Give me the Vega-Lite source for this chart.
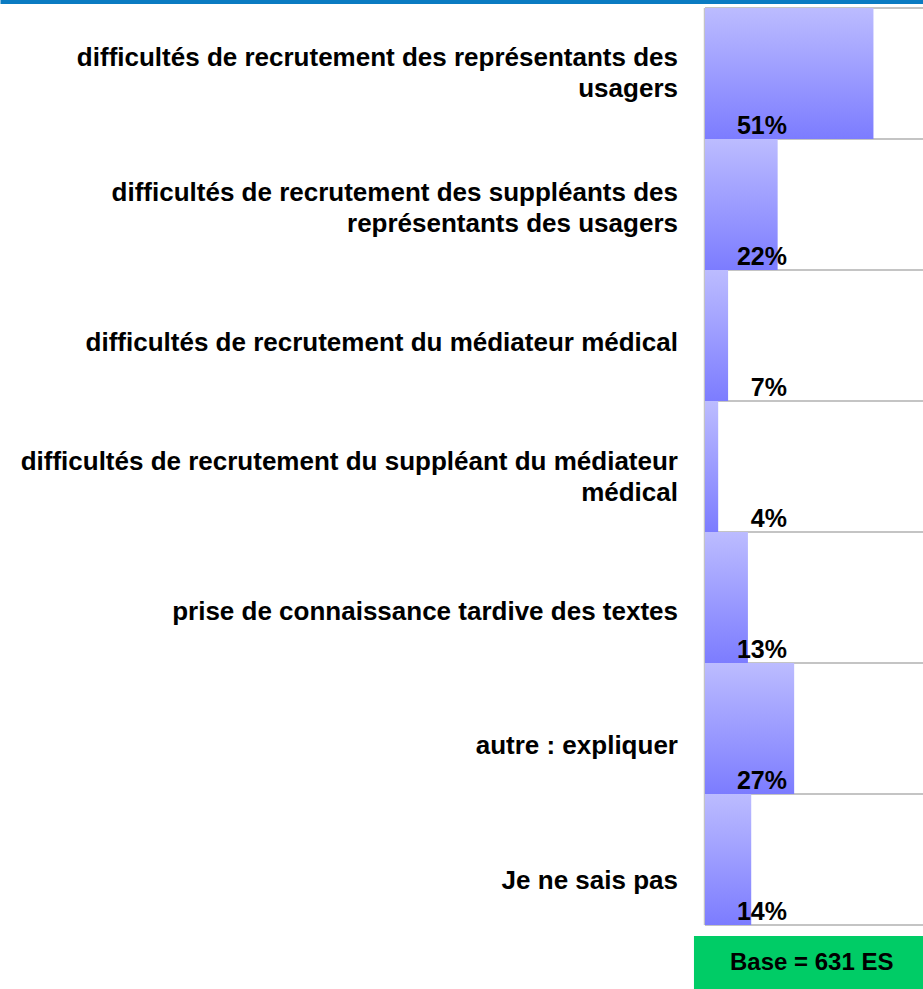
{
  "$schema": "https://vega.github.io/schema/vega-lite/v6.json",
  "padding": 0,
  "background": "white",
  "spacing": 10,
  "config": {"view": {"stroke": null}, "font": "Liberation Sans"},
  "resolve": {"scale": {"x": "independent"}, "axis": {"x": "independent"}},
  "vconcat": [
    {
      "width": 923,
      "height": 917,
      "data": {"values": [
        {"label": "difficultés de recrutement des représentants des\nusagers", "pct": 0.51},
        {"label": "difficultés de recrutement des suppléants des\nreprésentants des usagers", "pct": 0.22},
        {"label": "difficultés de recrutement du médiateur médical", "pct": 0.07},
        {"label": "difficultés de recrutement du suppléant du médiateur\nmédical", "pct": 0.04},
        {"label": "prise de connaissance tardive des textes", "pct": 0.13},
        {"label": "autre : expliquer", "pct": 0.27},
        {"label": "Je ne sais pas", "pct": 0.14}
      ]},
      "layer": [
        {
          "layer": [
            {
              "mark": {"type": "rule", "color": "#c4c4c4", "strokeWidth": 2},
              "encoding": {
                "y": {"field": "label", "type": "nominal", "sort": null, "bandPosition": 0, "axis": null, "scale": {"paddingInner": 0, "paddingOuter": 0}},
                "x": {"datum": 0, "type": "quantitative", "scale": {"domain": [-2.134, 0.66], "nice": false, "zero": false}, "axis": {"orient": "top", "title": null, "labels": false, "ticks": false, "grid": false, "domainColor": "#0a7bc2", "domainWidth": 7, "offset": 8}},
                "x2": {"datum": 0.66}
              }
            },
            {
              "mark": {"type": "rule", "color": "#c4c4c4", "strokeWidth": 2},
              "encoding": {
                "y": {"field": "label", "type": "nominal", "sort": null, "bandPosition": 1, "axis": null},
                "x": {"datum": 0, "type": "quantitative"},
                "x2": {"datum": 0.66}
              }
            },
            {
              "mark": {"type": "rule", "color": "#c4c4c4", "strokeWidth": 2},
              "encoding": {
                "x": {"datum": 0, "type": "quantitative"}
              }
            },
            {
              "mark": {"type": "bar", "color": {"gradient": "linear", "x1": 0, "y1": 0, "x2": 0, "y2": 1, "stops": [{"offset": 0, "color": "#bcbcff"}, {"offset": 1, "color": "#7c7cff"}]}},
              "encoding": {
                "y": {"field": "label", "type": "nominal", "sort": null, "axis": null},
                "x": {"field": "pct", "type": "quantitative"}
              }
            },
            {
              "mark": {"type": "text", "align": "right", "baseline": "alphabetic", "dx": 82, "dy": -5, "fontSize": 25, "fontWeight": "bold", "color": "black"},
              "encoding": {
                "y": {"field": "label", "type": "nominal", "sort": null, "bandPosition": 1, "axis": null},
                "x": {"datum": 0, "type": "quantitative"},
                "text": {"field": "pct", "type": "quantitative", "format": ".0%"}
              }
            }
          ]
        },
        {
          "layer": [
            {
              "transform": [{"filter": "indexof(datum.label, '\\n') < 0"}],
              "mark": {"type": "text", "align": "right", "baseline": "middle", "dx": -27, "fontSize": 26, "fontWeight": "bold", "color": "black", "lineBreak": "\n", "lineHeight": 31},
              "encoding": {
                "y": {"field": "label", "type": "nominal", "sort": null, "axis": null, "scale": {"domain": [
                  "difficultés de recrutement des représentants des\nusagers",
                  "difficultés de recrutement des suppléants des\nreprésentants des usagers",
                  "difficultés de recrutement du médiateur médical",
                  "difficultés de recrutement du suppléant du médiateur\nmédical",
                  "prise de connaissance tardive des textes",
                  "autre : expliquer",
                  "Je ne sais pas"
                ], "range": [-1.75, 939.75], "paddingInner": 0, "paddingOuter": 0}},
                "x": {"datum": 0, "type": "quantitative"},
                "text": {"field": "label", "type": "nominal"}
              }
            },
            {
              "transform": [{"filter": "indexof(datum.label, '\\n') >= 0"}],
              "mark": {"type": "text", "align": "right", "baseline": "middle", "dx": -27, "dy": -15.5, "fontSize": 26, "fontWeight": "bold", "color": "black", "lineBreak": "\n", "lineHeight": 31},
              "encoding": {
                "y": {"field": "label", "type": "nominal", "sort": null, "axis": null},
                "x": {"datum": 0, "type": "quantitative"},
                "text": {"field": "label", "type": "nominal"}
              }
            }
          ]
        }
      ],
      "resolve": {"scale": {"y": "independent"}}
    },
    {
      "width": 923,
      "height": 54,
      "data": {"values": [{"base": "Base = 631 ES"}]},
      "layer": [
        {
          "mark": {"type": "rect", "color": "#00cc66"},
          "encoding": {
            "x": {"datum": -0.0333, "type": "quantitative", "scale": {"domain": [-2.134, 0.66], "nice": false, "zero": false}, "axis": null},
            "x2": {"datum": 0.66}
          }
        },
        {
          "mark": {"type": "text", "align": "left", "baseline": "middle", "dx": 36, "fontSize": 24, "fontWeight": "bold", "color": "black"},
          "encoding": {
            "x": {"datum": -0.0333, "type": "quantitative", "axis": null},
            "text": {"field": "base", "type": "nominal"}
          }
        }
      ]
    }
  ]
}
